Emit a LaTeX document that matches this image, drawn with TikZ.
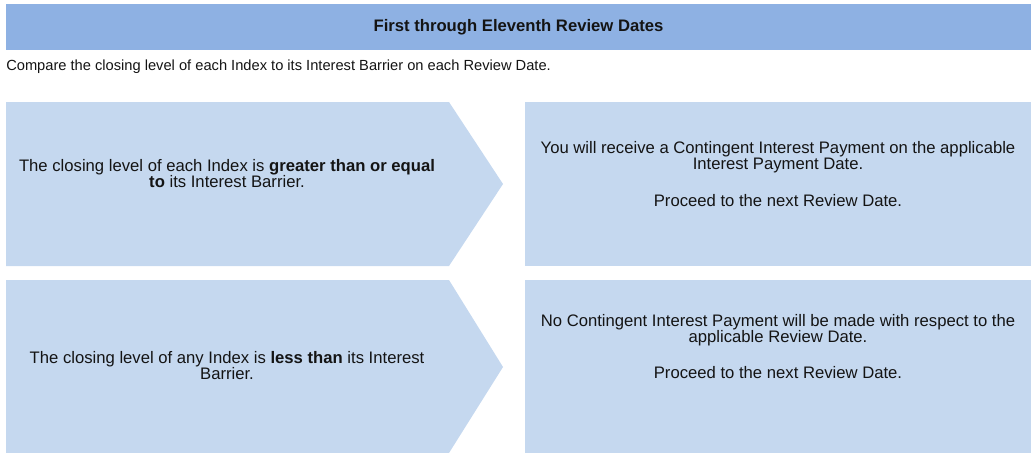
\documentclass[tikz,border=0pt]{standalone}
\usepackage{fontspec}
\setmainfont{Liberation Sans}
\usepackage{tikz}
\usetikzlibrary{positioning,calc}

\definecolor{hdrblue}{RGB}{142,177,227}
\definecolor{boxblue}{RGB}{197,216,239}
\definecolor{txtgray}{RGB}{20,20,20}

\tikzset{
  bodytext/.style={inner sep=0pt, align=center, text=txtgray,
    font=\fontsize{12.5}{12.5}\selectfont},
  chevron/.style={fill=boxblue},
  outcome/.style={fill=boxblue}
}

\begin{document}
\begin{tikzpicture}[x=0.75pt,y=-0.75pt]
      \useasboundingbox (0,0) rectangle (1031,453);

      % title band
      \fill[hdrblue] (6,4) rectangle (1031,50);
      \node[bodytext,font=\fontsize{12.5}{12.5}\selectfont\bfseries](title) at (518.5,27)
        {First through Eleventh Review Dates};
      \node[bodytext,anchor=base west,font=\fontsize{11}{13}\selectfont](intro) at (6,70)
        {Compare the closing level of each Index to its Interest Barrier on each Review Date.};

      % conditions
      \fill[chevron] (6,102) -- (449,102) -- (503,184) -- (449,266) -- (6,266) -- cycle;
      \fill[chevron] (6,280) -- (449,280) -- (503,367) -- (449,453) -- (6,453) -- cycle;
      \node[bodytext](cond1) at (227,173.5)
        {The closing level of each Index is \textbf{greater than or equal}\\
         \textbf{to} its Interest Barrier.};
      \node[bodytext](cond2) at (227,365.5)
        {The closing level of any Index is \textbf{less than} its Interest\\
         Barrier.};

      % outcomes
      \fill[outcome] (525,102) rectangle (1031,266);
      \fill[outcome] (525,280) rectangle (1031,453);
      \node[bodytext](res1) at (778,174)
        {You will receive a Contingent Interest Payment on the applicable\\
         Interest Payment Date.\\[15pt]
         Proceed to the next Review Date.};
      \node[bodytext](res2) at (778,346.5)
        {No Contingent Interest Payment will be made with respect to the\\
         applicable Review Date.\\[14.5pt]
         Proceed to the next Review Date.};
\end{tikzpicture}
\end{document}
